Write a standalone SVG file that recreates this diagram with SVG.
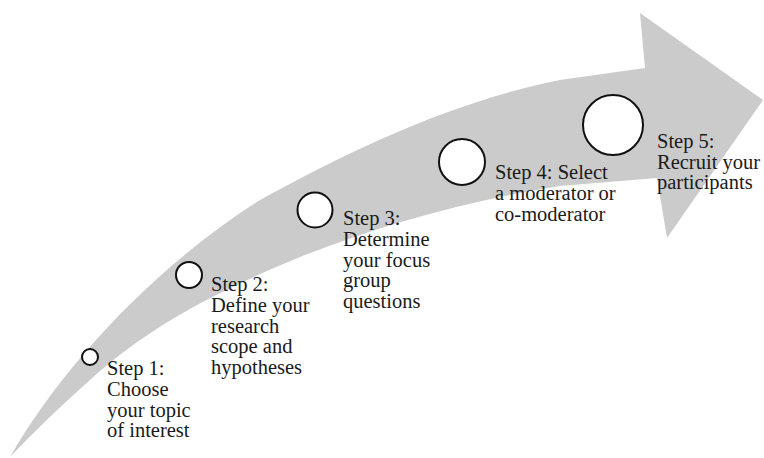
<svg xmlns="http://www.w3.org/2000/svg" width="764" height="458" viewBox="0 0 764 458">
  <style>
    .arrow { fill: #cbcbcb; stroke: none; }
    .step circle { fill: #ffffff; stroke: #111111; stroke-width: 2; }
    .step text { font-family: "Liberation Serif", "Times New Roman", serif; font-size: 20.5px; fill: #1a1a1a; }
  </style>
  <rect width="764" height="458" fill="#ffffff"/>

  <!-- curved progress arrow -->
  <g id="connectors">
    <path class="arrow" d="M10,457 C60,370 150,270 260,200 C360,145 460,100 560,80 L645,68 L640,13 L763,100 L667,238 L657,178 L560,186 C470,200 380,225 300,257 C220,290 150,325 90,380 Q45,420 10,457 Z"/>
  </g>

  <g id="step1" class="step">
    <circle cx="90" cy="357" r="8"/>
    <text x="107" y="375">Step 1:</text>
    <text x="107" y="396">Choose</text>
    <text x="107" y="416.5">your topic</text>
    <text x="107" y="437">of interest</text>
  </g>

  <g id="step2" class="step">
    <circle cx="189" cy="275" r="13"/>
    <text x="211" y="291">Step 2:</text>
    <text x="211" y="312">Define your</text>
    <text x="211" y="332.5">research</text>
    <text x="211" y="353">scope and</text>
    <text x="211" y="374">hypotheses</text>
  </g>

  <g id="step3" class="step">
    <circle cx="315" cy="210" r="17.5"/>
    <text x="343" y="225">Step 3:</text>
    <text x="343" y="246">Determine</text>
    <text x="343" y="266.5">your focus</text>
    <text x="343" y="287">group</text>
    <text x="343" y="308">questions</text>
  </g>

  <g id="step4" class="step">
    <circle cx="462" cy="162" r="23"/>
    <text x="495" y="179">Step 4: Select</text>
    <text x="495" y="200">a moderator or</text>
    <text x="495" y="220.5">co-moderator</text>
  </g>

  <g id="step5" class="step">
    <circle cx="613" cy="125" r="30"/>
    <text x="657" y="148">Step 5:</text>
    <text x="657" y="168.5">Recruit your</text>
    <text x="657" y="189">participants</text>
  </g>
</svg>
